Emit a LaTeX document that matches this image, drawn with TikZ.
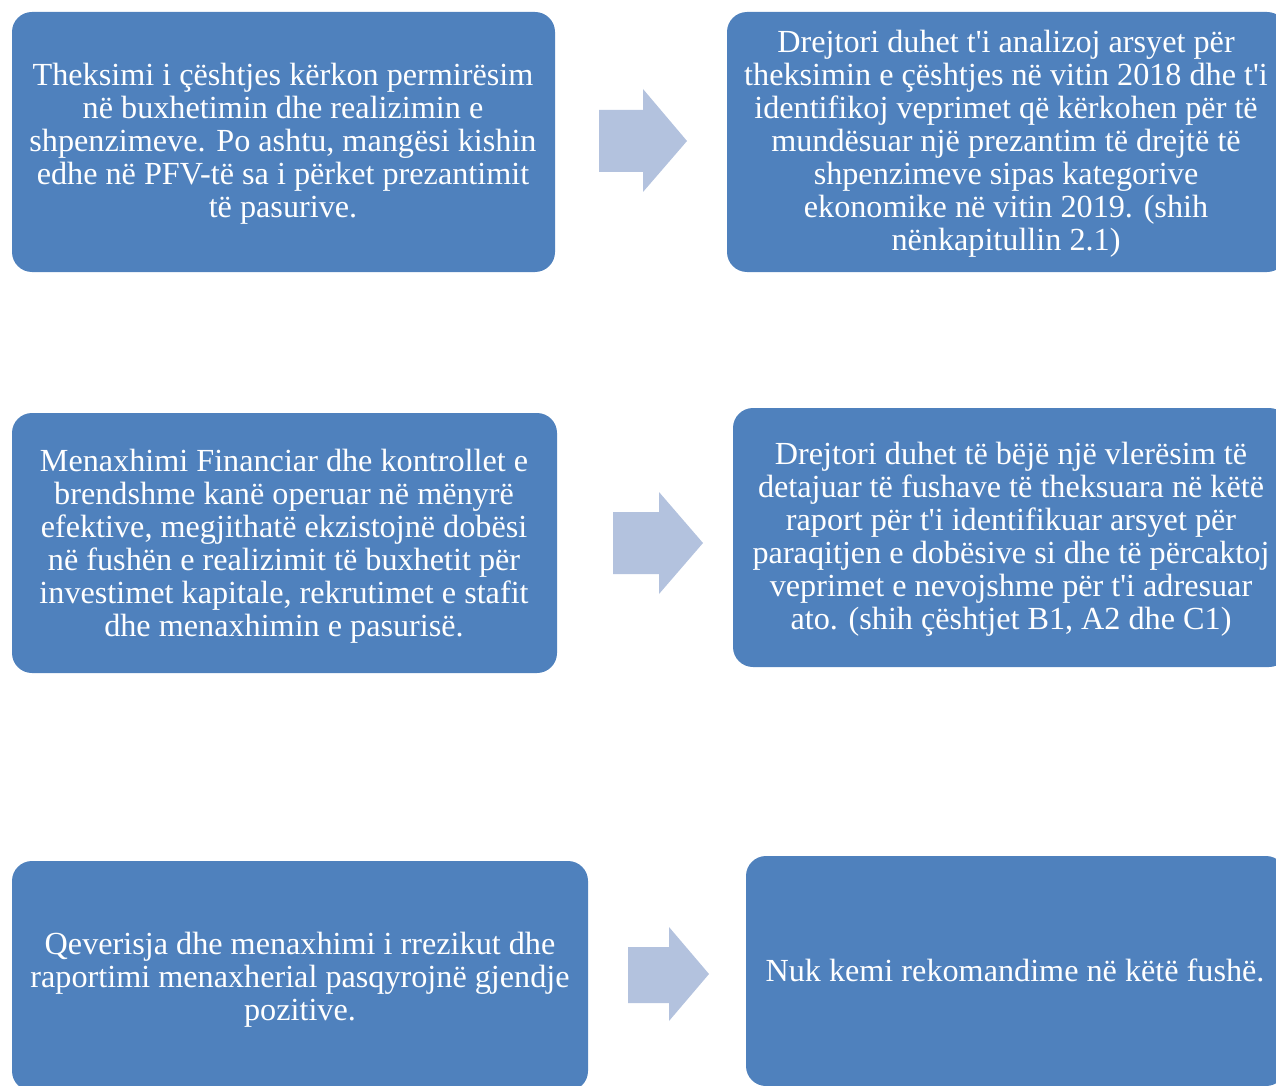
\documentclass[tikz,border=0pt]{standalone}
\usepackage{fontspec}
\setmainfont{Liberation Serif}
\definecolor{boxblue}{RGB}{79,129,189}
\definecolor{arrowblue}{RGB}{179,194,222}
\newcommand{\apo}{\textquotesingle}
\begin{document}
\begin{tikzpicture}[x=1pt,y=-1pt,
  card/.style={draw=none,fill=boxblue,rounded corners=20pt,inner sep=0pt},
  txt/.style={text=white,align=center,inner sep=0pt,font=\fontsize{32.2}{33}\selectfont},
  blockarrow/.style={fill=arrowblue,draw=none}]
\useasboundingbox (0,0) rectangle (1276,1086);
\clip (0,0) rectangle (1276,1086);
% boxes
\node[card,minimum width=543pt,minimum height=260pt] (b1l) at (283.5,142) {};
\node[card,minimum width=560pt,minimum height=260pt] (b1r) at (1007,142) {};
\node[card,minimum width=545pt,minimum height=260pt] (b2l) at (284.5,543) {};
\node[card,minimum width=556pt,minimum height=259pt] (b2r) at (1011,537.5) {};
\node[card,minimum width=576pt,minimum height=230pt] (b3l) at (300,976) {};
\node[card,minimum width=540pt,minimum height=230pt] (b3r) at (1016,971) {};
% texts
\node[txt] (t1l) at (283,144) {Theksimi i çështjes kërkon permirësim\\në buxhetimin dhe realizimin e\\shpenzimeve. Po ashtu, mangësi kishin\\edhe në PFV-të sa i përket prezantimit\\të pasurive.};
\node[txt] (t1r) at (1006,144) {Drejtori duhet t\apo i analizoj arsyet për\\theksimin e çështjes në vitin 2018 dhe t\apo i\\identifikoj veprimet që kërkohen për të\\mundësuar një prezantim të drejtë të\\shpenzimeve sipas kategorive\\ekonomike në vitin 2019. (shih\\nënkapitullin 2.1)};
\node[txt] (t2l) at (284,546) {Menaxhimi Financiar dhe kontrollet e\\brendshme kanë operuar në mënyrë\\efektive, megjithatë ekzistojnë dobësi\\në fushën e realizimit të buxhetit për\\investimet kapitale, rekrutimet e stafit\\dhe menaxhimin e pasurisë.};
\node[txt] (t2r) at (1011,539.5) {Drejtori duhet të bëjë një vlerësim të\\detajuar të fushave të theksuara në këtë\\raport për t\apo i identifikuar arsyet për\\paraqitjen e dobësive si dhe të përcaktoj\\veprimet e nevojshme për t\apo i adresuar\\ato. (shih çështjet B1, A2 dhe C1)};
\node[txt] (t3l) at (300,980) {Qeverisja dhe menaxhimi i rrezikut dhe\\raportimi menaxherial pasqyrojnë gjendje\\pozitive.};
\node[txt] (t3r) at (1015,970) {Nuk kemi rekomandime në këtë fushë.};
% block arrows
\fill[blockarrow] (599,110) -- (643,110) -- (643,89) -- (687,141) -- (643,192) -- (643,172) -- (599,172) -- cycle;
\fill[blockarrow] (613,512) -- (659,512) -- (659,492) -- (703,543) -- (659,594) -- (659,574) -- (613,574) -- cycle;
\fill[blockarrow] (628,947) -- (669,947) -- (669,927) -- (709,974) -- (669,1021) -- (669,1003) -- (628,1003) -- cycle;
\end{tikzpicture}
\end{document}
